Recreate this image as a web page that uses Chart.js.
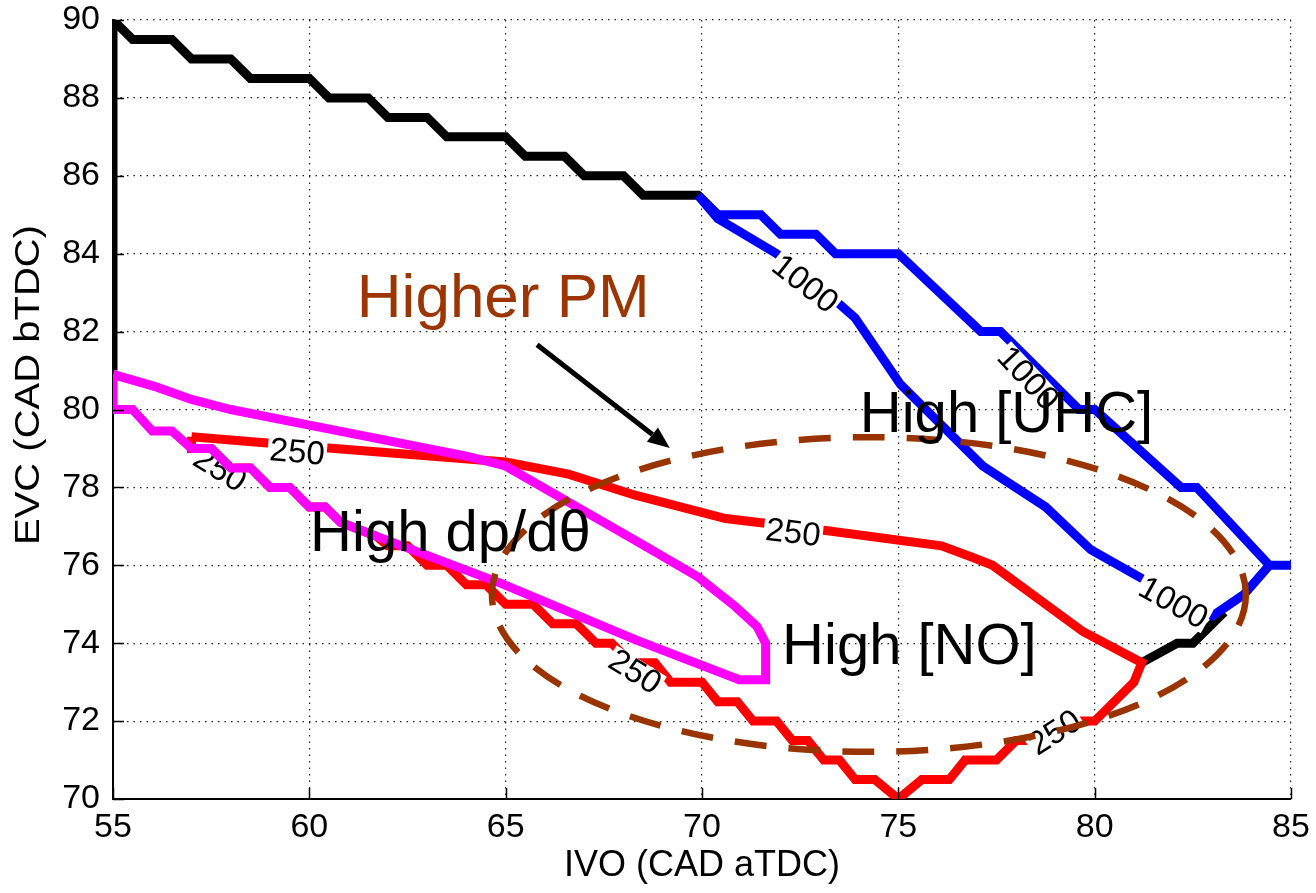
<!DOCTYPE html>
<html>
<head>
<meta charset="utf-8">
<title>IVO / EVC contour map</title>
<script src="https://cdn.jsdelivr.net/npm/chart.js@4/dist/chart.umd.min.js"></script>
<style>
  html, body { margin: 0; padding: 0; background: #ffffff; }
  canvas { display: block; }
</style>
</head>
<body>
<canvas id="contourChart" width="1316" height="893"></canvas>
<script>
// ---------- axes ----------
const xTicks = [55, 60, 65, 70, 75, 80, 85];
const yTicks = [70, 72, 74, 76, 78, 80, 82, 84, 86, 88, 90];

// ---------- contour traces (IVO, EVC); null breaks a line ----------
// boundary contour (black)
const blackIVO = [55, 55, 55.5, 56.5, 57, 58, 58.5, 60, 60.5, 61.5, 62, 63, 63.5, 65, 65.5, 66.5, 67, 68, 68.5, 69.9, 70.4,
  null, 81.2, 82.1, 82.5, 83.3];
const blackEVC = [81, 90, 89.5, 89.5, 89, 89, 88.5, 88.5, 88, 88, 87.5, 87.5, 87, 87, 86.5, 86.5, 86, 86, 85.5, 85.5, 85.0,
  null, 73.5, 74.0, 74.0, 74.8];

// UHC 1000 contour (blue): outer edge, stub to the right, inner edge back
const uhcIVO = [69.9, 70.4, 71.5, 72.0, 72.9, 73.4, 75.0, 77.1, 77.6, 79.6, 80.0, 82.2, 82.6, 84.45, 85.5, 84.45,
  83.8, 83.0, 81.4, 79.9, 78.75, 77.15, 76.1, 75.05, 73.9, 73.45, 71.9, 70.4, 69.9];
const uhcEVC = [85.5, 85.0, 85.0, 84.5, 84.5, 84.0, 84.0, 82.0, 82.0, 80.0, 80.0, 78.0, 78.0, 76.0, 76.0, 76.0,
  75.25, 74.7, 75.55, 76.4, 77.5, 78.55, 79.6, 80.65, 82.35, 82.75, 84.0, 84.9, 85.5];

// NO 250 contour (red): upper edge left to right, lower staircase back
const noIVO = [57.0, 60.0, 62.5, 65.0, 66.6, 68.3, 70.6, 73.1, 76.1, 76.9, 77.4, 79.7, 81.2, 81.0, 80.0, 79.5, 79.0, 78.0,
  77.5, 76.7, 76.3, 75.6, 75.0, 74.4, 73.9, 73.5, 73.1, 72.7, 72.3, 71.9, 71.3, 70.9, 70.4, 70.0, 69.2, 68.8, 68.2,
  67.7, 67.3, 66.8, 66.2, 65.7, 65.0, 64.5, 64.0, 63.5, 63.0, 62.5, 62.0, 61.7, 60.8, 60.4, 60.0, 59.5, 59.0, 58.5,
  58.0, 57.5, 57.0, 57.0];
const noEVC = [79.3, 79.05, 78.85, 78.65, 78.34, 77.8, 77.2, 76.9, 76.5, 76.2, 76.0, 74.3, 73.5, 73.0, 72.0, 72.0, 71.5, 71.5,
  71.0, 71.0, 70.5, 70.5, 70.0, 70.5, 70.5, 71.0, 71.0, 71.5, 71.5, 72.0, 72.0, 72.5, 72.5, 73.0, 73.0, 73.5, 73.5,
  74.0, 74.0, 74.5, 74.5, 75.0, 75.0, 75.5, 75.5, 76.0, 76.0, 76.5, 76.5, 76.75, 77.1, 77.5, 77.5, 78.0, 78.0, 78.5,
  78.5, 79.0, 79.0, 79.3];

// dp/dtheta contour (magenta): upper edge, tip, lower edge, staircase back to the axis
const dpIVO = [55.0, 56.1, 57.0, 58.0, 60.0, 62.0, 64.0, 65.0, 66.5, 68.3, 69.9, 70.85, 71.4, 71.62, 71.62, 70.95, 68.3, 64.9, 61.7,
  60.8, 60.4, 60.0, 59.5, 59.0, 58.5, 58.0, 57.5, 57.0, 56.5, 56.0, 55.5, 55.0, 55.0];
const dpEVC = [80.9, 80.58, 80.26, 80.0, 79.6, 79.2, 78.8, 78.55, 77.68, 76.64, 75.7, 74.94, 74.43, 74.0, 73.06, 73.06, 74.09, 75.53, 76.75,
  77.1, 77.5, 77.5, 78.0, 78.0, 78.5, 78.5, 79.0, 79.0, 79.45, 79.45, 80.0, 80.0, 80.9];

// in-line contour level labels
const contourLabels = [
  { series: 'UHC', text: '1000', x: 72.62, y: 83.22, angle: 38 },
  { series: 'UHC', text: '1000', x: 78.3, y: 80.8, angle: 47 },
  { series: 'UHC', text: '1000', x: 82.0, y: 75.03, angle: 29 },
  { series: 'NO', text: '250', x: 59.69, y: 78.9, angle: 5 },
  { series: 'NO', text: '250', x: 57.72, y: 78.45, angle: 32 },
  { series: 'NO', text: '250', x: 72.32, y: 76.83, angle: 7 },
  { series: 'NO', text: '250', x: 68.29, y: 73.26, angle: 32 },
  { series: 'NO', text: '250', x: 78.99, y: 71.7, angle: -33 }
];

// region captions (left edge, baseline)
const captions = [
  { text: 'Higher PM', x: 61.21, y: 82.37, color: '#9c3500', size: 62 },
  { text: 'High [UHC]', x: 74.02, y: 79.42, color: '#000000', size: 58 },
  { text: 'High dp/d\u03b8', x: 60.02, y: 76.37, color: '#000000', size: 58 },
  { text: 'High [NO]', x: 72.04, y: 73.47, color: '#000000', size: 58 }
];

// dashed PM region and pointer arrow
const pmCenter = [74.25, 75.25];
const pmRadius = [9.6, 4.04];
const arrowFrom = [65.8, 81.66];
const arrowTo = [69.18, 79.01];

function toPoints(xs, ys) {
  return xs.map((x, i) => ({ x: x, y: ys[i] }));
}

const FONT = '"Liberation Sans", Arial, Helvetica, sans-serif';

const overlayPlugin = {
  id: 'overlay',
  afterDatasetDraw(chart, args) {
    const ds = chart.data.datasets[args.index];
    const xs = chart.scales.x, ys = chart.scales.y;
    const ctx = chart.ctx;
    contourLabels.filter(l => l.series === ds.label).forEach(l => {
      ctx.save();
      ctx.translate(xs.getPixelForValue(l.x), ys.getPixelForValue(l.y));
      ctx.rotate(l.angle * Math.PI / 180);
      ctx.font = '33px ' + FONT;
      const w = ctx.measureText(l.text).width;
      ctx.fillStyle = '#ffffff';
      ctx.fillRect(-w / 2 - 2, -13, w + 4, 26);
      ctx.fillStyle = '#000000';
      ctx.textAlign = 'center';
      ctx.textBaseline = 'middle';
      ctx.fillText(l.text, 0, 1);
      ctx.restore();
    });
  },
  afterDatasetsDraw(chart) {
    const xs = chart.scales.x, ys = chart.scales.y;
    const ctx = chart.ctx;

    // dashed ellipse
    const cx = xs.getPixelForValue(pmCenter[0]);
    const cy = ys.getPixelForValue(pmCenter[1]);
    const rx = Math.abs(xs.getPixelForValue(pmCenter[0] + pmRadius[0]) - cx);
    const ry = Math.abs(ys.getPixelForValue(pmCenter[1] + pmRadius[1]) - cy);
    ctx.save();
    ctx.strokeStyle = '#993300';
    ctx.lineWidth = 6.5;
    ctx.setLineDash([32, 22]);
    ctx.beginPath();
    ctx.ellipse(cx, cy, rx, ry, 0, 0, Math.PI * 2);
    ctx.stroke();
    ctx.restore();

    // arrow
    const x0 = xs.getPixelForValue(arrowFrom[0]), y0 = ys.getPixelForValue(arrowFrom[1]);
    const x1 = xs.getPixelForValue(arrowTo[0]), y1 = ys.getPixelForValue(arrowTo[1]);
    const ang = Math.atan2(y1 - y0, x1 - x0);
    const head = 22, half = 9;
    ctx.save();
    ctx.strokeStyle = '#000000';
    ctx.fillStyle = '#000000';
    ctx.lineWidth = 5;
    ctx.beginPath();
    ctx.moveTo(x0, y0);
    ctx.lineTo(x1 - head * Math.cos(ang), y1 - head * Math.sin(ang));
    ctx.stroke();
    ctx.beginPath();
    ctx.moveTo(x1, y1);
    ctx.lineTo(x1 - head * Math.cos(ang) + half * Math.sin(ang), y1 - head * Math.sin(ang) - half * Math.cos(ang));
    ctx.lineTo(x1 - head * Math.cos(ang) - half * Math.sin(ang), y1 - head * Math.sin(ang) + half * Math.cos(ang));
    ctx.closePath();
    ctx.fill();
    ctx.restore();

    // captions
    ctx.save();
    ctx.textAlign = 'left';
    ctx.textBaseline = 'alphabetic';
    captions.forEach(c => {
      ctx.font = c.size + 'px ' + FONT;
      ctx.fillStyle = c.color;
      ctx.fillText(c.text, xs.getPixelForValue(c.x), ys.getPixelForValue(c.y));
    });
    ctx.restore();
  },
  afterDraw(chart) {
    const { ctx, chartArea } = chart;
    const xs = chart.scales.x, ys = chart.scales.y;
    // inward tick marks on the bottom and left axes
    ctx.save();
    ctx.strokeStyle = '#000000';
    ctx.lineWidth = 1.5;
    ctx.beginPath();
    xTicks.forEach(v => {
      const px = Math.round(xs.getPixelForValue(v)) + 0.5;
      ctx.moveTo(px, chartArea.bottom);
      ctx.lineTo(px, chartArea.bottom - 11);
    });
    yTicks.forEach(v => {
      const py = Math.round(ys.getPixelForValue(v)) + 0.5;
      ctx.moveTo(chartArea.left, py);
      ctx.lineTo(chartArea.left + 11, py);
    });
    ctx.stroke();
    // y-axis title
    ctx.translate(30, 385);
    ctx.rotate(-Math.PI / 2);
    ctx.scale(1, 0.86);
    ctx.font = '40px ' + FONT;
    ctx.fillStyle = '#000000';
    ctx.textAlign = 'center';
    ctx.textBaseline = 'middle';
    ctx.fillText('EVC (CAD bTDC)', 0, 0);
    ctx.restore();
  }
};

const lineStyle = { showLine: true, pointRadius: 0, borderWidth: 9, clip: 0, tension: 0, spanGaps: false };

new Chart(document.getElementById('contourChart'), {
  type: 'scatter',
  data: {
    datasets: [
      Object.assign({ label: 'dp', data: toPoints(dpIVO, dpEVC), borderColor: '#ff00ff' }, lineStyle),
      Object.assign({ label: 'UHC', data: toPoints(uhcIVO, uhcEVC), borderColor: '#0000ff' }, lineStyle),
      Object.assign({ label: 'NO', data: toPoints(noIVO, noEVC), borderColor: '#ff0000' }, lineStyle),
      Object.assign({ label: 'boundary', data: toPoints(blackIVO, blackEVC), borderColor: '#000000' }, lineStyle)
    ]
  },
  options: {
    responsive: false,
    animation: false,
    devicePixelRatio: 1,
    layout: { padding: { top: 20, right: 25, left: 0, bottom: 0 } },
    plugins: {
      legend: { display: false },
      tooltip: { enabled: false }
    },
    scales: {
      x: {
        type: 'linear',
        min: 55,
        max: 85,
        afterBuildTicks: scale => { scale.ticks = xTicks.map(v => ({ value: v })); },
        afterFit: scale => { scale.height = 94; scale.paddingLeft = 0; scale.paddingRight = 0; },
        grid: { color: '#222222', lineWidth: 1.2, drawTicks: false },
        border: { display: true, color: '#000000', width: 2, dash: [1.5, 5] },
        ticks: {
          padding: 8,
          color: '#000000',
          font: { family: FONT, size: 34 }
        },
        title: {
          display: true,
          text: 'IVO (CAD aTDC)',
          color: '#000000',
          padding: { top: 0, bottom: 5 },
          font: { family: FONT, size: 36 }
        }
      },
      y: {
        type: 'linear',
        min: 70,
        max: 90,
        afterBuildTicks: scale => { scale.ticks = yTicks.map(v => ({ value: v })); },
        afterFit: scale => { scale.width = 113; scale.paddingTop = 0; scale.paddingBottom = 0; },
        grid: { color: '#222222', lineWidth: 1.2, drawTicks: false },
        border: { display: true, color: '#000000', width: 2, dash: [1.5, 5] },
        ticks: {
          padding: 13,
          color: '#000000',
          font: { family: FONT, size: 34 }
        }
      }
    }
  },
  plugins: [overlayPlugin]
});
</script>
</body>
</html>
